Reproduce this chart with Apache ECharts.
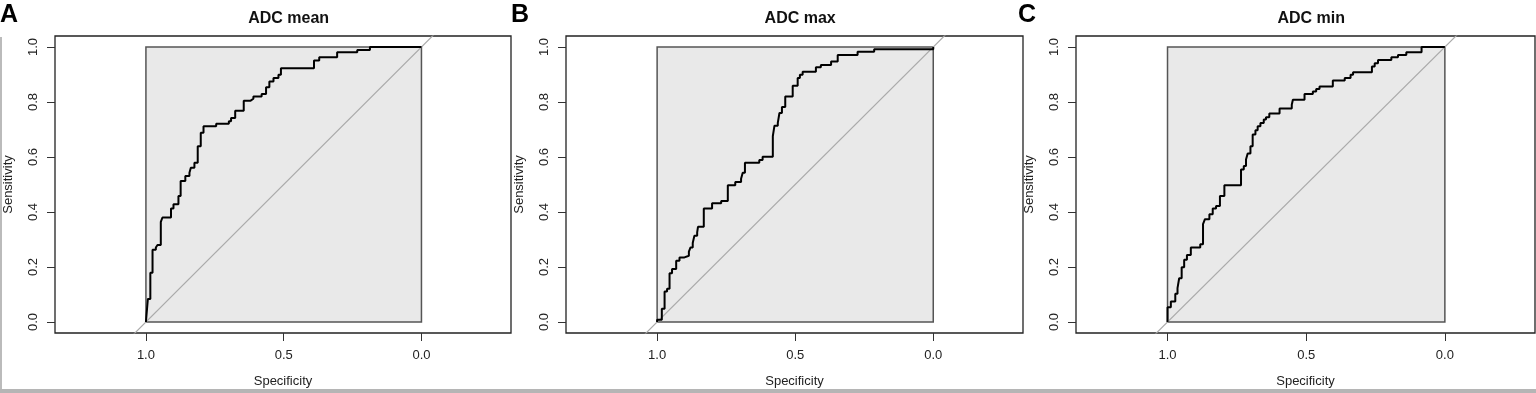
<!DOCTYPE html>
<html>
<head>
<meta charset="utf-8">
<script src="https://cdn.jsdelivr.net/npm/echarts@6/dist/echarts.min.js"></script>
<style>
  html, body { margin: 0; padding: 0; background: #fff; }
  #chart { width: 1536px; height: 393px; }
</style>
</head>
<body>
<div id="chart"></div>
<script>
const panelTitles = ['ADC mean', 'ADC max', 'ADC min']
const panelLetters = ['A', 'B', 'C']
const xTicks = [1.0, 0.5, 0.0]
const yTicks = [0.0, 0.2, 0.4, 0.6, 0.8, 1.0]

// ROC steps: specificity where the curve rises, sensitivity reached there
const specMean = [1.000, 1.000, 0.993, 0.984, 0.976, 0.964, 0.958, 0.946, 0.940, 0.909, 0.900, 0.882, 0.874, 0.857, 0.842, 0.837, 0.824, 0.812, 0.801, 0.791, 0.745, 0.699, 0.691, 0.676, 0.645, 0.620, 0.610, 0.580, 0.564, 0.552, 0.537, 0.519, 0.510, 0.390, 0.371, 0.306, 0.233, 0.187, 0.000]
const sensMean = [0.000, 0.006, 0.084, 0.179, 0.263, 0.271, 0.280, 0.364, 0.380, 0.413, 0.428, 0.458, 0.513, 0.531, 0.543, 0.561, 0.579, 0.639, 0.688, 0.712, 0.721, 0.730, 0.742, 0.768, 0.805, 0.812, 0.820, 0.829, 0.854, 0.875, 0.887, 0.899, 0.923, 0.951, 0.963, 0.981, 0.989, 1.000, 1.000]

const specMax = [1.000, 1.000, 0.983, 0.973, 0.964, 0.955, 0.946, 0.931, 0.919, 0.901, 0.885, 0.879, 0.871, 0.865, 0.855, 0.852, 0.831, 0.801, 0.768, 0.744, 0.717, 0.696, 0.690, 0.682, 0.630, 0.618, 0.581, 0.575, 0.563, 0.557, 0.548, 0.536, 0.509, 0.491, 0.483, 0.473, 0.425, 0.407, 0.370, 0.346, 0.274, 0.214, 0.000]
const sensMax = [0.000, 0.008, 0.048, 0.111, 0.121, 0.177, 0.193, 0.223, 0.235, 0.241, 0.256, 0.271, 0.287, 0.314, 0.326, 0.346, 0.413, 0.432, 0.440, 0.497, 0.509, 0.521, 0.543, 0.579, 0.589, 0.601, 0.676, 0.714, 0.724, 0.760, 0.782, 0.820, 0.859, 0.887, 0.899, 0.910, 0.926, 0.935, 0.947, 0.971, 0.983, 0.992, 1.000]

const specMin = [1.000, 1.000, 0.988, 0.972, 0.964, 0.958, 0.949, 0.940, 0.930, 0.916, 0.882, 0.872, 0.865, 0.849, 0.837, 0.825, 0.811, 0.795, 0.735, 0.725, 0.717, 0.711, 0.701, 0.693, 0.683, 0.675, 0.665, 0.653, 0.645, 0.633, 0.596, 0.552, 0.548, 0.506, 0.476, 0.464, 0.452, 0.404, 0.361, 0.340, 0.331, 0.263, 0.253, 0.241, 0.193, 0.169, 0.139, 0.084, 0.000]
const sensMin = [0.000, 0.054, 0.075, 0.103, 0.123, 0.159, 0.199, 0.226, 0.244, 0.271, 0.283, 0.356, 0.374, 0.392, 0.413, 0.422, 0.458, 0.497, 0.555, 0.567, 0.591, 0.613, 0.639, 0.682, 0.697, 0.712, 0.724, 0.736, 0.745, 0.758, 0.776, 0.790, 0.808, 0.829, 0.838, 0.847, 0.856, 0.878, 0.887, 0.899, 0.908, 0.929, 0.941, 0.953, 0.963, 0.971, 0.981, 1.000, 1.000]

const chanceLine = [[1.2, -0.2], [-0.2, 1.2]]
const unitBox = [[1, 0], [0, 1]]

const curves = [[specMean, sensMean], [specMax, sensMax], [specMin, sensMin]]

const font = '"Liberation Sans", Arial, sans-serif'
const xMin = -0.325, xMax = 1.33
const yMin = -0.04, yMax = 1.04
const grids = [
    { left: 55, width: 456 },
    { left: 566, width: 457 },
    { left: 1076, width: 459 }
]
const letterX = [0, 511, 1018]

const chart = echarts.init(document.getElementById('chart'))

let option = {
    backgroundColor: '#fff',
    animation: false,
    title: [],
    grid: [],
    xAxis: [],
    yAxis: [],
    series: [],
    graphic: []
}

grids.forEach((g, i) => {
    option.grid.push({
        left: g.left, width: g.width, top: 36, height: 298,
        show: true, borderColor: '#222', borderWidth: 1.3, backgroundColor: 'transparent'
    })
    let innerCenter = g.left + (xMax - 0.5) / (xMax - xMin) * g.width
    option.title.push({
        text: panelTitles[i],
        left: innerCenter, top: 6, textAlign: 'center',
        textStyle: { fontFamily: font, fontSize: 16, fontWeight: 'bold', color: '#111' }
    })
    option.xAxis.push({
        type: 'value', gridIndex: i, inverse: true, min: xMin, max: xMax,
        position: 'bottom',
        name: 'Specificity', nameLocation: 'middle', nameGap: 42,
        nameTextStyle: { fontFamily: font, fontSize: 13, color: '#222' },
        axisLine: { show: false, onZero: false },
        axisTick: { show: true, length: 8, customValues: xTicks, lineStyle: { color: '#333' } },
        axisLabel: {
            customValues: xTicks, margin: 16,
            formatter: v => v.toFixed(1),
            fontFamily: font, fontSize: 13, color: '#222'
        },
        splitLine: { show: false }
    })
    option.yAxis.push({
        type: 'value', gridIndex: i, min: yMin, max: yMax,
        position: 'left',
        name: 'Sensitivity', nameLocation: 'middle', nameGap: 40, nameRotate: 90,
        nameTextStyle: { fontFamily: font, fontSize: 13, color: '#222' },
        axisLine: { show: false, onZero: false },
        axisTick: { show: true, length: 8, customValues: yTicks, lineStyle: { color: '#333' } },
        axisLabel: {
            customValues: yTicks, margin: 15, rotate: 90,
            formatter: v => v.toFixed(1),
            fontFamily: font, fontSize: 13, color: '#222'
        },
        splitLine: { show: false }
    })
    // grey square spanning specificity 1..0, sensitivity 0..1
    option.series.push({
        type: 'line', xAxisIndex: i, yAxisIndex: i, data: [], z: 1, silent: true,
        markArea: {
            silent: true,
            itemStyle: { color: '#e9e9e9', borderColor: '#555', borderWidth: 1.5 },
            data: [[{ coord: unitBox[0] }, { coord: unitBox[1] }]]
        }
    })
    option.series.push({
        type: 'line', xAxisIndex: i, yAxisIndex: i, z: 2, silent: true,
        data: chanceLine, symbol: 'none', clip: true,
        lineStyle: { color: '#aaa', width: 1.2 }
    })
    let [spec, sens] = curves[i]
    option.series.push({
        type: 'line', xAxisIndex: i, yAxisIndex: i, z: 3, silent: true,
        data: spec.map((s, k) => [s, sens[k]]),
        step: 'end', symbol: 'none',
        lineStyle: { color: '#000', width: 2 }
    })
    option.graphic.push({
        type: 'text', left: letterX[i], top: 3,
        style: { text: panelLetters[i], font: 'bold 25px ' + font, fill: '#000' }
    })
})

// frame strips of the figure
option.graphic.push({
    type: 'rect', left: 0, top: 37, shape: { width: 2, height: 353 },
    style: { fill: '#bbb' }, silent: true
})
option.graphic.push({
    type: 'rect', left: 0, top: 389, shape: { width: 1536, height: 4 },
    style: { fill: '#b5b5b5' }, silent: true
})

chart.setOption(option)
</script>
</body>
</html>
